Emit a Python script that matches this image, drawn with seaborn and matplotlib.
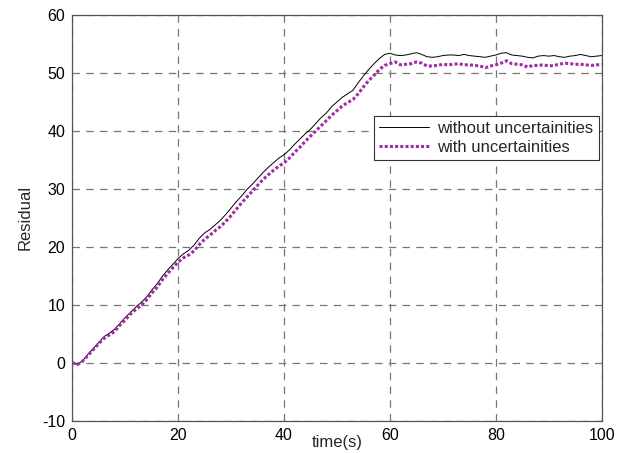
import numpy as np
import pandas as pd
import seaborn as sns
import matplotlib.pyplot as plt

# time axis (s)
time_s = list(range(0, 101))

# residual without uncertainties (thin black)
resid_without = [
    0.0, -0.3, 0.4, 1.5, 2.5, 3.5, 4.5, 5.1, 5.8, 6.8,
    7.8, 8.7, 9.6, 10.4, 11.3, 12.5, 13.6, 14.9, 16.0, 17.0,
    18.0, 18.8, 19.4, 20.3, 21.5, 22.4, 23.0, 23.8, 24.6, 25.6,
    26.7, 27.8, 28.8, 29.9, 30.8, 31.8, 32.8, 33.7, 34.5, 35.3,
    35.9, 36.7, 37.7, 38.6, 39.5, 40.3, 41.3, 42.3, 43.1, 44.2,
    45.0, 45.8, 46.4, 47.0, 48.3, 49.5, 50.6, 51.6, 52.5, 53.2,
    53.4, 53.1, 53.0, 53.1, 53.3, 53.5, 53.2, 52.8, 52.7, 52.8,
    53.0, 53.1, 53.1, 53.0, 53.2, 53.0, 52.9, 52.8, 52.7, 52.9,
    53.1, 53.4, 53.5, 53.1, 53.0, 52.9, 52.7, 52.6, 52.9, 53.0,
    52.9, 53.0, 52.8, 52.7, 52.9, 53.0, 53.2, 53.0, 52.8, 52.9,
    53.0,
]

# residual with uncertainties (purple dotted)
resid_with = [
    0.0, -0.3, 0.3, 1.3, 2.3, 3.3, 4.2, 4.8, 5.4, 6.5,
    7.4, 8.4, 9.2, 9.9, 10.8, 12.0, 13.0, 14.3, 15.4, 16.4,
    17.4, 18.1, 18.6, 19.3, 20.4, 21.3, 22.0, 22.8, 23.5, 24.4,
    25.4, 26.5, 27.6, 28.6, 29.6, 30.6, 31.6, 32.4, 33.2, 33.9,
    34.5, 35.3, 36.3, 37.2, 38.2, 39.1, 40.0, 40.9, 41.8, 42.7,
    43.5, 44.3, 44.9, 45.4, 46.4, 47.6, 48.7, 49.6, 50.6, 51.3,
    51.6, 51.9, 51.4, 51.5, 51.6, 51.9, 51.7, 51.2, 51.2, 51.3,
    51.5, 51.4, 51.5, 51.6, 51.4, 51.4, 51.3, 51.2, 50.9, 51.2,
    51.4, 51.7, 52.1, 51.6, 51.5, 51.4, 51.0, 51.3, 51.3, 51.4,
    51.2, 51.3, 51.5, 51.7, 51.6, 51.5, 51.5, 51.4, 51.3, 51.4,
    51.4,
]

labels = ['without uncertainities', 'with uncertainities']

sns.set_style('white')
plt.rcParams['font.family'] = ['Liberation Sans', 'DejaVu Sans']
plt.rcParams['axes.unicode_minus'] = False

fig = plt.figure(figsize=(6.18, 4.53), dpi=100)
ax = fig.add_axes([72.3 / 618, (453 - 420.7) / 453, 529.4 / 618, 405.7 / 453])

sns.lineplot(x=time_s, y=resid_without, ax=ax, color='black', linewidth=0.7,
             label=labels[0])
sns.lineplot(x=time_s, y=resid_with, ax=ax, color='#A02CA8', linewidth=2.2,
             label=labels[1])
ax.lines[1].set_linestyle((0, (1, 0.7)))
ax.lines[1].set_dash_capstyle('butt')

ax.set_xlim(0, 100)
ax.set_ylim(-10, 60)
ax.set_xticks(range(0, 101, 20))
ax.set_yticks(range(-10, 61, 10))
ax.grid(True, linestyle=(0, (6, 5)), color='#777777', linewidth=0.9)
for s in ax.spines.values():
    s.set_color('#555555')
    s.set_linewidth(0.9)
ax.tick_params(labelsize=11.5, direction='in', length=0, pad=5, colors='black')

ax.set_xlabel('time(s)', fontsize=12)
ax.xaxis.set_label_coords(0.5, -0.036)
ax.set_ylabel('Residual', fontsize=12)
ax.yaxis.set_label_coords(-0.075, 0.5)

leg = ax.legend(loc='upper right', bbox_to_anchor=(0.994, 0.751), borderaxespad=0,
                fontsize=12, fancybox=False, framealpha=1, edgecolor='#333333',
                handlelength=3.0, handletextpad=0.5, borderpad=0.3, labelspacing=0.25)
leg.get_frame().set_linewidth(0.8)

plt.savefig('out.png', dpi=100)
